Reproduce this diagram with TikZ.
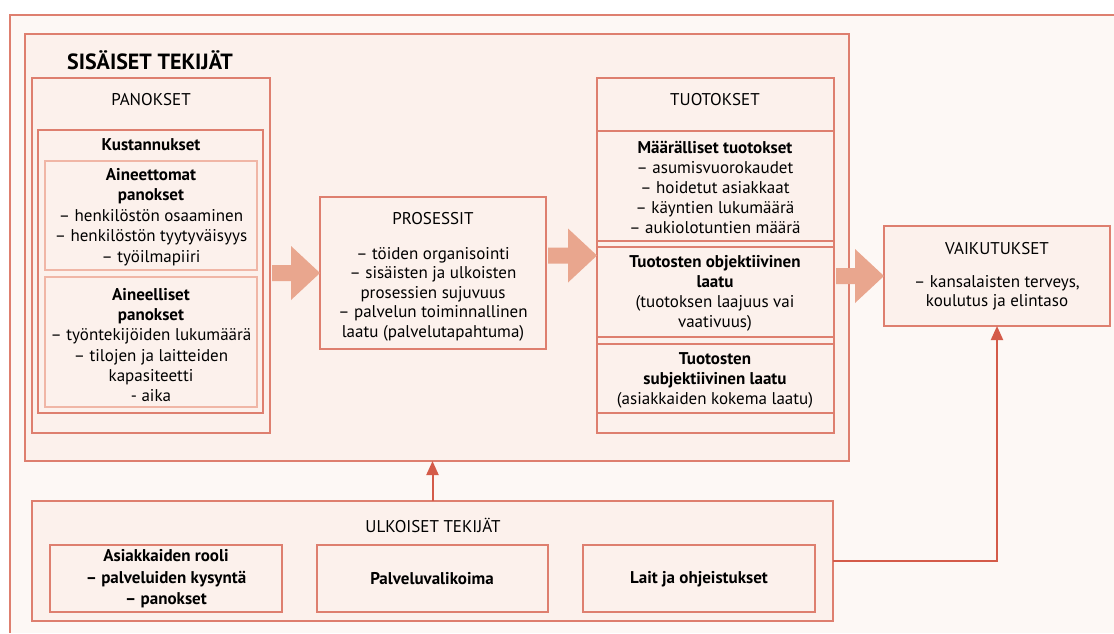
\documentclass[tikz,border=0pt]{standalone}
\usepackage{fontspec}
\setmainfont{PT Sans}
\usetikzlibrary{calc,arrows.meta}
\definecolor{bgc}{HTML}{FDF8F5}
\definecolor{boxfill}{HTML}{FCF1EC}
\definecolor{edge}{HTML}{DE7F6F}
\definecolor{edgelight}{HTML}{F0B6A6}
\definecolor{blkc}{HTML}{E9A68E}
\definecolor{arrc}{HTML}{D45B49}
\newcommand\fs{\fontsize{17}{20}\selectfont}
\newcommand\bx[6]{\node[#6, minimum width={#4-#2}, minimum height={#5-#3}] (#1) at ({(#2+#4)/2},{(#3+#5)/2}) {};}
\newcommand\blockarr[2]{\fill[blk] let \p1=(#1.east), \p2=(#2.west), \n1={\x2-29pt} in
  (\x1+2pt,\y2+8pt) -- (\n1,\y2+8pt) -- (\n1,\y2+27pt) -- (\x2,\y2) -- (\n1,\y2-27pt) -- (\n1,\y2-8pt) -- (\x1+2pt,\y2-8pt) -- cycle;}
\begin{document}
\begin{tikzpicture}[x=1pt,y=-1pt,
  box/.style={draw=edge, line width=1.4pt, fill=boxfill, inner sep=0, outer sep=0},
  lbox/.style={draw=edgelight, line width=1.3pt, fill=boxfill, inner sep=0, outer sep=0},
  txt/.style={align=center, font=\fs, inner sep=0, text=black},
  btxt/.style={align=center, font=\fs\bfseries, inner sep=0, text=black},
  blk/.style={fill=blkc},
  thinarr/.style={draw=arrc, line width=2pt, -{Triangle[length=14pt,width=12pt]}}]
\useasboundingbox (0,0) rectangle (1114,633);
\fill[white] (0,0) rectangle (1114,633);
\fill[bgc] (10,15) rectangle (1114,633);
\draw[edge, line width=1.4pt] (1114,15) -- (10,15) -- (10,633);

% internal factors
\bx{sis}{25}{34}{849}{461}{box}
\bx{pan}{32}{78}{270}{433}{box}
\bx{kus}{38}{130}{263}{413}{box}
\bx{ain1}{45}{161}{257}{270}{lbox}
\bx{ain2}{45}{277}{257}{407}{lbox}
\bx{pro}{320}{197}{546}{349}{box}
\bx{tuo}{597}{78}{834}{433}{box}
\bx{maa}{597}{131}{834}{241}{box}
\bx{obj}{597}{247}{834}{337}{box}
\bx{sub}{597}{344}{834}{413}{box}
\bx{vai}{884}{226}{1110}{326}{box}
% external factors
\bx{ulk}{32}{501}{833}{621}{box}
\bx{b1}{50}{545}{282}{612}{box}
\bx{b2}{317}{545}{548}{612}{box}
\bx{b3}{583}{545}{815}{612}{box}

% texts
\node[inner sep=0, font=\fontsize{22}{24}\selectfont\bfseries] (tsis) at (150,60) {SISÄISET TEKIJÄT};
\node[txt] (tpan) at (151,100) {PANOKSET};
\node[btxt] (tkus) at (151,145) {Kustannukset};
\node[txt, font=\fontsize{17}{20.5}\selectfont] (tain1) at (151,217) {\textbf{Aineettomat}\\\textbf{panokset}\\– henkilöstön osaaminen\\– henkilöstön tyytyväisyys\\– työilmapiiri};
\node[txt, font=\fontsize{17}{20.2}\selectfont] (tain2) at (151,345) {\textbf{Aineelliset}\\\textbf{panokset}\\– työntekijöiden lukumäärä\\– tilojen ja laitteiden\\kapasiteetti\\- aika};
\node[txt] (tpro) at (433,219) {PROSESSIT};
\node[txt, font=\fontsize{17}{19.5}\selectfont] (tpro2) at (433,294) {– töiden organisointi\\– sisäisten ja ulkoisten\\prosessien sujuvuus\\– palvelun toiminnallinen\\laatu (palvelutapahtuma)};
\node[txt] (ttuo) at (715,100) {TUOTOKSET};
\node[txt] (tmaa) at (715,187) {\textbf{Määrälliset tuotokset}\\– asumisvuorokaudet\\– hoidetut asiakkaat\\– käyntien lukumäärä\\– aukiolotuntien määrä};
\node[txt] (tobj) at (715,293) {\textbf{Tuotosten objektiivinen}\\\textbf{laatu}\\(tuotoksen laajuus vai\\vaativuus)};
\node[txt] (tsub) at (715,380) {\textbf{Tuotosten}\\\textbf{subjektiivinen laatu}\\(asiakkaiden kokema laatu)};
\node[txt] (tvai) at (997,249) {VAIKUTUKSET};
\node[txt, font=\fontsize{17}{19}\selectfont] (tvai2) at (997,293) {– kansalaisten terveys,\\koulutus ja elintaso};
\node[txt] (tulk) at (433,525) {ULKOISET TEKIJÄT};
\node[btxt, font=\fontsize{17}{21.5}\selectfont\bfseries] (tb1) at (166,579) {Asiakkaiden rooli\\– palveluiden kysyntä\\– panokset};
\node[btxt] (tb2) at (432,579) {Palveluvalikoima};
\node[btxt] (tb3) at (699,579) {Lait ja ohjeistukset};

% block arrows
\blockarr{pan}{pro}
\blockarr{pro}{tuo}
\blockarr{tuo}{vai}

% thin arrows
\draw[thinarr] (ulk.north) -- (ulk.north |- sis.south);
\draw[thinarr] (ulk.east) -| (vai.south);
\end{tikzpicture}
\end{document}
